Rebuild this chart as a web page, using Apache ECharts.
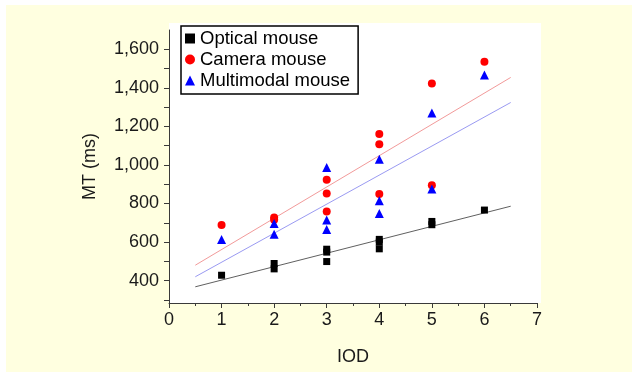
<!DOCTYPE html>
<html>
<head>
<meta charset="utf-8">
<script src="https://cdn.jsdelivr.net/npm/echarts@6/dist/echarts.min.js"></script>
<style>
  html, body { margin: 0; padding: 0; background: #ffffff; }
  #bg { position: absolute; left: 6px; top: 5px; width: 626px; height: 367px; background: #ffffe0; }
  #chart { position: absolute; left: 0; top: 0; width: 632px; height: 372px; }
</style>
</head>
<body>
<div id="bg"></div>
<div id="chart"></div>
<script>
// ---- Data ----
const seriesNames = ['Optical mouse', 'Camera mouse', 'Multimodal mouse'];

const opticalIOD = [1, 2, 2, 3, 3, 3, 4, 4, 4, 5, 5, 6];
const opticalMT  = [428, 489, 461, 563, 548, 499, 614, 600, 565, 707, 690, 766];

const cameraIOD = [1, 2, 2, 3, 3, 3, 4, 4, 4, 5, 5, 6];
const cameraMT  = [688, 727, 716, 923, 852, 759, 1160, 1108, 849, 1423, 895, 1535];

const multiIOD = [1, 2, 2, 3, 3, 3, 4, 4, 4, 5, 5, 6];
const multiMT  = [614, 697, 640, 987, 714, 665, 1030, 814, 748, 875, 1270, 1466];

// Fit lines: endpoints
const fitIOD      = [0.5, 6.5];
const opticalFit  = [368, 786];
const cameraFit   = [480, 1454];
const multiFit    = [420, 1324];

// Axis ranges / tick labels
const xTicks = [0, 1, 2, 3, 4, 5, 6, 7];
const yTickLabels = [400, 600, 800, 1000, 1200, 1400, 1600];
const yMin = 284, yMax = 1700;

// ---- Build ----
const pair = (xs, ys) => xs.map((x, i) => [x, ys[i]]);
const fmt = v => String(v).replace(/\B(?=(\d{3})+(?!\d))/g, ',');
const FONT = 'Liberation Sans, Arial, sans-serif';
const TXT = '#1a1a1a';
const AX = '#3a3a3a';

const chart = echarts.init(document.getElementById('chart'), null, { renderer: 'canvas' });
chart.setOption({
  animation: false,
  backgroundColor: 'transparent',
  textStyle: { fontFamily: FONT },
  graphic: [{
    type: 'rect', z: -10, silent: true,
    shape: { x: 169, y: 23, width: 372, height: 280 },
    style: { fill: '#ffffff' }
  }],
  grid: { left: 169, right: 95, top: 30, bottom: 69, containLabel: false },
  legend: {
    data: seriesNames,
    orient: 'vertical',
    left: 181, top: 26,
    padding: [3, 8, 4, 4],
    itemGap: 2,
    itemWidth: 10, itemHeight: 10,
    backgroundColor: '#ffffff',
    borderColor: '#000000',
    borderWidth: 1.5,
    borderRadius: 0,
    textStyle: { fontSize: 18.5, color: '#000', fontFamily: FONT, padding: [0, 0, 0, 0], lineHeight: 18.5 },
    selectedMode: false
  },
  xAxis: {
    type: 'value',
    min: xTicks[0], max: xTicks[xTicks.length - 1], interval: 1,
    name: 'IOD', nameLocation: 'middle', nameGap: 45,
    nameTextStyle: { fontSize: 18, color: TXT, fontFamily: FONT },
    axisLine: { show: true, onZero: false, lineStyle: { color: AX, width: 1 } },
    axisTick: { show: true, length: 5, lineStyle: { color: AX } },
    minorTick: { show: true, splitNumber: 2, length: 3, lineStyle: { color: AX } },
    axisLabel: { fontSize: 18, color: TXT, margin: 8, fontFamily: FONT },
    splitLine: { show: false }
  },
  yAxis: {
    type: 'value',
    min: yMin, max: yMax, minInterval: 100, maxInterval: 100,
    name: 'MT (ms)', nameLocation: 'middle', nameGap: 70,
    nameTextStyle: { fontSize: 18, color: TXT, fontFamily: FONT },
    axisLine: { show: true, onZero: false, lineStyle: { color: AX, width: 1 } },
    axisTick: { show: true, length: 5, lineStyle: { color: AX } },
    axisLabel: {
      fontSize: 18, color: TXT, margin: 10, fontFamily: FONT,
      showMinLabel: false, showMaxLabel: false,
      formatter: v => yTickLabels.indexOf(v) >= 0 ? fmt(v) : ''
    },
    splitLine: { show: false }
  },
  series: [
    { name: 'optical fit', type: 'line', data: pair(fitIOD, opticalFit), showSymbol: false, silent: true,
      lineStyle: { color: '#606060', width: 1 }, z: 1 },
    { name: 'camera fit', type: 'line', data: pair(fitIOD, cameraFit), showSymbol: false, silent: true,
      lineStyle: { color: '#f29a9a', width: 1 }, z: 1 },
    { name: 'multi fit', type: 'line', data: pair(fitIOD, multiFit), showSymbol: false, silent: true,
      lineStyle: { color: '#9a9af2', width: 1 }, z: 1 },
    { name: seriesNames[0], type: 'scatter', data: pair(opticalIOD, opticalMT), symbol: 'rect', symbolSize: 7,
      itemStyle: { color: '#000000', opacity: 1 }, z: 3 },
    { name: seriesNames[1], type: 'scatter', data: pair(cameraIOD, cameraMT), symbol: 'circle', symbolSize: 8,
      itemStyle: { color: '#ff0000', opacity: 1 }, z: 3 },
    { name: seriesNames[2], type: 'scatter', data: pair(multiIOD, multiMT), symbol: 'triangle', symbolSize: 9,
      itemStyle: { color: '#0000ff', opacity: 1 }, z: 4 }
  ]
});
</script>
</body>
</html>
